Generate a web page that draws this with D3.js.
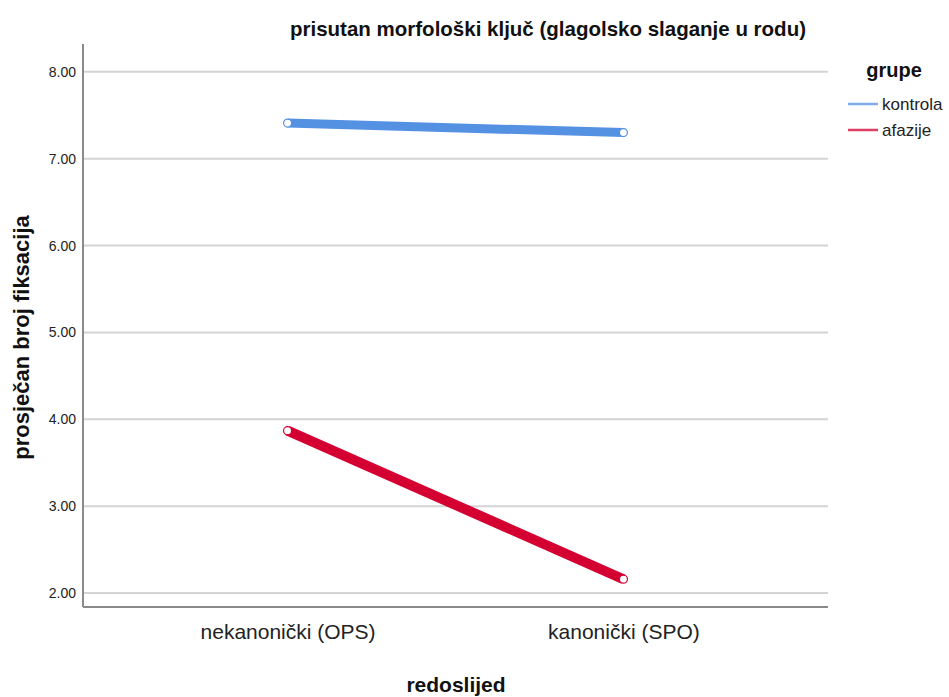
<!DOCTYPE html>
<html>
<head>
<meta charset="utf-8">
<script src="https://cdn.jsdelivr.net/npm/d3@7"></script>
<style>
  body { margin: 0; background: #fff; }
  text { font-family: "Liberation Sans", Arial, sans-serif; }
</style>
</head>
<body>
<script>
// Data
let categories = ["nekanonički (OPS)", "kanonički (SPO)"];
let groups = ["kontrola", "afazije"];
let kontrolaValues = [7.41, 7.30];
let afazijeValues = [3.87, 2.16];
let yTicks = [2, 3, 4, 5, 6, 7, 8];
let colors = ["#5591e2", "#d50032"];

let svgWidth = 949;
let svgHeight = 697;

let margin = { top: 44, right: 121, bottom: 90, left: 83 };
let chartWidth = svgWidth - margin.left - margin.right;
let chartHeight = svgHeight - margin.top - margin.bottom;

let svg = d3.select("body")
  .append("svg")
  .attr("width", svgWidth)
  .attr("height", svgHeight);

let chartGroup = svg.append("g")
  .attr("transform", `translate(${margin.left}, ${margin.top})`);

let xScale = d3.scalePoint()
  .domain(categories)
  .range([0, chartWidth])
  .padding(0.609);

let yScale = d3.scaleLinear()
  .domain([1.84, 8.32])
  .range([chartHeight, 0]);

// gridlines
chartGroup.selectAll(".grid")
  .data(yTicks)
  .enter()
  .append("line")
  .attr("x1", 0)
  .attr("x2", chartWidth)
  .attr("y1", d => yScale(d))
  .attr("y2", d => yScale(d))
  .style("stroke", "#d4d4d4")
  .style("stroke-width", 2);

// y axis
let yAxis = d3.axisLeft(yScale)
  .tickValues(yTicks)
  .tickFormat(d3.format(".2f"))
  .tickSize(0)
  .tickPadding(7);

let yG = chartGroup.append("g").call(yAxis);
yG.select(".domain").remove();
yG.selectAll("text")
  .style("font-size", "14px")
  .style("fill", "#222");

// x axis
let xAxis = d3.axisBottom(xScale).tickSize(0).tickPadding(17);
let xG = chartGroup.append("g")
  .attr("transform", `translate(0, ${chartHeight})`)
  .call(xAxis);
xG.select(".domain").remove();
xG.selectAll("text")
  .style("font-size", "21px")
  .style("fill", "#222");

// axis lines
chartGroup.append("line")
  .attr("x1", 0).attr("x2", 0)
  .attr("y1", 0).attr("y2", chartHeight)
  .style("stroke", "#8a8a8a")
  .style("stroke-width", 2);
chartGroup.append("line")
  .attr("x1", 0).attr("x2", chartWidth)
  .attr("y1", chartHeight).attr("y2", chartHeight)
  .style("stroke", "#8a8a8a")
  .style("stroke-width", 2);

// lines
let series = [kontrolaValues, afazijeValues];
let widths = [9, 10];
let line = d3.line()
  .x((d, i) => xScale(categories[i]))
  .y(d => yScale(d));

series.forEach(function(vals, s) {
  chartGroup.append("path")
    .datum(vals)
    .attr("d", line)
    .style("fill", "none")
    .style("stroke", colors[s])
    .style("stroke-width", widths[s]);

  chartGroup.selectAll(".pt" + s)
    .data(vals)
    .enter()
    .append("circle")
    .attr("cx", (d, i) => xScale(categories[i]))
    .attr("cy", d => yScale(d))
    .attr("r", 4)
    .style("fill", "#fff")
    .style("stroke", colors[s])
    .style("stroke-width", 1.2);
});

// title
svg.append("text")
  .attr("x", 548)
  .attr("y", 36)
  .style("text-anchor", "middle")
  .style("font-size", "20.5px")
  .style("font-weight", "bold")
  .style("fill", "#111")
  .text("prisutan morfološki ključ (glagolsko slaganje u rodu)");

// axis titles
svg.append("text")
  .attr("x", 456)
  .attr("y", 692)
  .style("text-anchor", "middle")
  .style("font-size", "21px")
  .style("font-weight", "bold")
  .style("fill", "#111")
  .text("redoslijed");

svg.append("text")
  .attr("transform", `translate(29, ${margin.top + chartHeight / 2 + 12}) rotate(-90)`)
  .style("text-anchor", "middle")
  .style("font-size", "22px")
  .style("font-weight", "bold")
  .style("fill", "#111")
  .text("prosječan broj fiksacija");

// legend
svg.append("text")
  .attr("x", 894)
  .attr("y", 77)
  .style("text-anchor", "middle")
  .style("font-size", "20px")
  .style("font-weight", "bold")
  .style("fill", "#111")
  .text("grupe");

let legend = svg.selectAll(".legend")
  .data(groups)
  .enter()
  .append("g")
  .attr("transform", (d, i) => `translate(848, ${104 + i * 26})`);

legend.append("line")
  .attr("x1", 0).attr("x2", 30)
  .style("stroke", (d, i) => colors[i])
  .style("stroke-width", 2.5)
  .style("opacity", 0.75);

legend.append("text")
  .attr("x", 34)
  .attr("y", 6)
  .style("font-size", "17px")
  .style("fill", "#222")
  .text(d => d);
</script>
</body>
</html>
